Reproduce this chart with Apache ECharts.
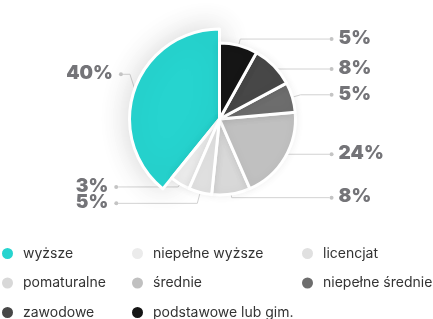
<!DOCTYPE html>
<html>
<head>
<meta charset="utf-8">
<script src="https://cdn.jsdelivr.net/npm/echarts@6/dist/echarts.min.js"></script>
<style>
  html, body { margin: 0; padding: 0; background: #fff; }
  #chart { width: 433px; height: 319px; }
</style>
</head>
<body>
<div id="chart"></div>
<script>
// Categories (legend order)
const categories = ['wyższe', 'niepełne wyższe', 'licencjat', 'pomaturalne', 'średnie', 'niepełne średnie', 'zawodowe', 'podstawowe lub gim.'];
// Slice sizes (share of the full circle, %)
const sliceValues = [39.2, 4.3, 4.9, 8.2, 19.9, 6.4, 9.1, 8.1];
// Percent texts printed next to the slices
const percentLabels = ['40%', '3%', '5%', '8%', '24%', '5%', '8%', '5%'];
// Legend columns
const legendCol1 = ['wyższe', 'pomaturalne', 'zawodowe'];
const legendCol2 = ['niepełne wyższe', 'średnie', 'podstawowe lub gim.'];
const legendCol3 = ['licencjat', 'niepełne średnie'];

const colors = ['#26d4cf', '#ebebeb', '#e0e0e0', '#d8d8d8', '#c0c0c0', '#6d6d6d', '#474747', '#151515'];
const lineLen = [5, 3.5, 11.2, 3.6, 1, 8.6, 1, 6.6];
const lineLen2 = [7, 60, 79, 29, 29, 29, 29, 29];
// vertical nudge of individual labels (px)
const labelShift = [-13, 0, 0, 0, -4, 0, 4, 0];

const total = sliceValues.reduce((a, b) => a + b, 0);
let acc = 0;
const side = sliceValues.map(v => {
  const mid = (90 + (acc + v / 2) / total * 360) * Math.PI / 180;
  acc += v;
  return Math.cos(mid) < 0 ? 'L' : 'R';
});

const labelColor = '#747478';
const txt = { fontFamily: 'Inter', fontSize: 19, fontWeight: 900, color: labelColor, lineHeight: 9, height: 9 };
const rich = {
  tl: Object.assign({}, txt, { padding: [0, 6, 2, 0] }),
  tr: Object.assign({}, txt, { padding: [0, 0, 2, 5] }),
  d: { width: 4, height: 4, borderRadius: 2, backgroundColor: '#c4c4c4', fontSize: 1, lineHeight: 4 }
};

function makeItem(i, visible, big) {
  if (!visible) {
    return {
      name: '',
      value: sliceValues[i],
      itemStyle: { color: 'rgba(0,0,0,0)', borderWidth: 0, shadowBlur: 0 },
      label: { show: false },
      labelLine: { show: false }
    };
  }
  return {
    name: categories[i],
    value: sliceValues[i],
    itemStyle: {
      color: colors[i],
      borderColor: '#ffffff',
      borderWidth: 3,
      shadowBlur: big ? 30 : 10,
      shadowColor: big ? 'rgba(0,0,0,0.17)' : 'rgba(0,0,0,0.06)'
    },
    label: {
      show: true,
      formatter: side[i] === 'L' ? '{tl|' + percentLabels[i] + '}{d| }' : '{d| }{tr|' + percentLabels[i] + '}'
    },
    labelLine: { show: true, length: lineLen[i], length2: lineLen2[i] }
  };
}

// nudge a label vertically, keeping its line attached
function shiftLabel(params) {
  const s = labelShift[params.dataIndex] || 0;
  const pts = params.labelLinePoints;
  if (!s) return { hideOverlap: false };
  if (!pts) return { dy: s, hideOverlap: false };
  return {
    dy: s,
    hideOverlap: false,
    labelLinePoints: [pts[0], [pts[1][0], pts[1][1] + s], [pts[2][0], pts[2][1] + s]]
  };
}

const common = {
  type: 'pie',
  center: [219.5, 119],
  startAngle: 90,
  clockwise: false,
  avoidLabelOverlap: true,
  silent: true,
  label: { alignTo: 'labelLine', distanceToLabelLine: 0, rich: rich },
  labelLine: { smooth: false, lineStyle: { color: '#d2d2d2', width: 1 } },
  labelLayout: shiftLabel,
  emphasis: { disabled: true }
};

// slice groups drawn as separate layers (the highlighted slice is larger)
const groupTop = [0];
const groupSingle = [2];
const groupRest = [1, 3, 4, 5, 6, 7];

const option = {
  animation: false,
  backgroundColor: '#ffffff',
  legend: [legendCol1, legendCol2, legendCol3].map((col, k) => ({
    data: col,
    left: [0, 130, 300][k],
    top: 246,
    height: 120,
    orient: 'vertical',
    padding: 0,
    icon: 'circle',
    itemWidth: 13,
    itemHeight: 13,
    itemGap: 14.5,
    selectedMode: false,
    textStyle: { fontFamily: 'Inter', fontSize: 14, lineHeight: 14, color: '#333333', padding: [0, 0, 0, 4] }
  })),
  series: [
    Object.assign({}, common, {
      name: 'top',
      radius: [0, 90],
      data: categories.map((c, i) => makeItem(i, groupTop.includes(i), true))
    }),
    Object.assign({}, common, {
      name: 'rest',
      radius: [0, 76],
      data: categories.map((c, i) => makeItem(i, groupRest.includes(i), false))
    }),
    Object.assign({}, common, {
      name: 'single',
      radius: [0, 76],
      data: categories.map((c, i) => makeItem(i, groupSingle.includes(i), false))
    })
  ]
};

const chart = echarts.init(document.getElementById('chart'), null, { renderer: 'canvas' });
chart.setOption(option);
</script>
</body>
</html>
